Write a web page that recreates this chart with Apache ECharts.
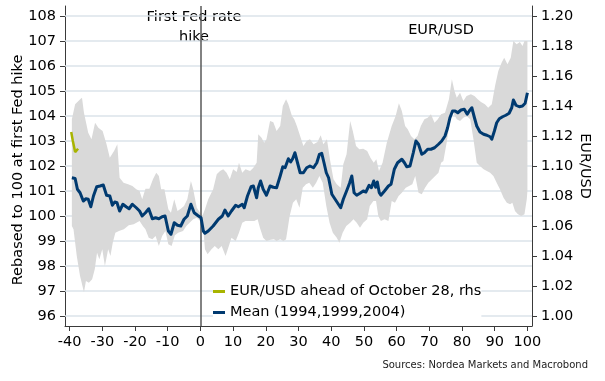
<!DOCTYPE html>
<html>
<head>
<meta charset="utf-8">
<script src="https://cdn.jsdelivr.net/npm/echarts@6/dist/echarts.min.js"></script>
<style>
html,body{margin:0;padding:0;background:#fff;}
#chart{width:605px;height:381px;}
</style>
</head>
<body>
<div id="chart"></div>
<script>
// ---- data ----
const tickDays = [-40,-30,-20,-10,0,10,20,30,40,50,60,70,80,90,100];
const leftTicks = [96,97,98,99,100,101,102,103,104,105,106,107,108];
const rightTicks = [1.00,1.02,1.04,1.06,1.08,1.10,1.12,1.14,1.16,1.18,1.20];

const meanDays = [-39.3,-38.3,-37.6,-36.8,-35.8,-35.0,-34.3,-33.5,-32.7,-31.7,-30.7,-29.7,-28.7,-27.7,-26.9,-26.2,-25.5,-24.7,-23.7,-22.7,-21.8,-20.8,-19.6,-18.6,-17.8,-16.8,-15.8,-14.7,-13.7,-12.7,-11.7,-10.8,-9.8,-9.0,-8.0,-7.0,-6.0,-5.0,-4.0,-2.9,-1.9,-0.9,0.2,0.9,1.4,2.4,3.9,5.5,6.7,7.5,8.5,9.5,10.8,11.6,12.8,13.4,14.4,15.5,16.2,17.2,17.7,18.4,19.2,20.2,21.3,22.3,23.3,24.4,25.2,25.9,26.9,27.6,28.2,28.9,29.7,30.5,31.5,32.5,33.5,34.6,35.6,36.4,37.1,37.8,38.5,39.2,40.2,41.2,42.2,42.9,43.7,44.7,45.6,46.3,47.0,47.8,48.8,49.8,50.6,51.6,52.3,53.0,53.6,54.1,54.7,55.2,56.3,57.5,58.3,59.3,60.3,61.6,62.4,63.1,64.1,65.1,65.9,66.7,67.7,68.5,69.5,70.5,71.6,72.8,73.8,74.8,75.6,76.3,77.1,77.9,78.7,79.7,80.7,81.6,82.2,83.0,83.8,84.5,85.5,86.6,87.6,88.6,89.1,89.9,90.6,91.4,92.4,93.4,94.4,95.2,95.7,96.5,97.5,98.5,99.3,100.0];
const meanValues = [101.53,101.50,101.07,100.93,100.60,100.69,100.67,100.37,100.80,101.17,101.20,101.24,100.83,100.80,100.43,100.56,100.53,100.20,100.47,100.37,100.29,100.47,100.33,100.20,100.00,100.13,100.29,99.89,99.93,99.89,99.97,100.00,99.40,99.27,99.73,99.63,99.60,99.87,100.00,100.47,100.13,100.03,99.93,99.40,99.31,99.40,99.60,99.87,100.00,100.24,100.00,100.20,100.43,100.37,100.47,100.33,100.80,101.17,101.20,100.73,101.13,101.40,101.07,100.83,101.20,101.15,101.13,101.60,101.97,101.93,102.29,102.16,102.29,102.53,102.13,101.73,101.73,101.93,102.00,101.93,102.13,102.47,102.51,102.13,101.73,101.53,100.87,100.67,100.47,100.33,100.67,101.00,101.31,101.60,100.93,100.83,100.91,101.00,100.96,101.23,101.13,101.40,101.15,101.36,100.93,100.83,101.00,101.20,101.27,101.87,102.13,102.27,102.13,101.97,102.00,102.53,103.00,102.87,102.47,102.53,102.67,102.67,102.73,102.87,103.00,103.20,103.53,103.93,104.20,104.20,104.13,104.24,104.27,104.07,104.20,104.33,103.93,103.60,103.36,103.27,103.23,103.17,103.07,103.40,103.73,103.89,103.97,104.03,104.11,104.33,104.64,104.43,104.37,104.40,104.51,104.93];

const upperDays = [-39.3,-38.3,-36.6,-36.2,-35.6,-34.3,-33.3,-32.2,-31.2,-29.9,-28.7,-27.7,-26.4,-25.4,-24.7,-23.5,-22.1,-20.8,-19.6,-18.6,-17.8,-16.8,-15.6,-14.5,-13.5,-12.7,-12.0,-11.0,-10.3,-9.8,-9.0,-8.0,-7.0,-6.0,-5.0,-4.0,-2.9,-2.2,-1.1,-0.1,0.6,1.4,2.4,3.9,5.0,6.0,7.0,8.0,9.0,10.0,11.1,11.8,12.8,13.8,15.2,16.2,17.2,17.7,18.7,19.5,20.2,21.3,22.3,23.3,24.4,25.2,26.2,26.9,28.0,28.7,29.5,30.5,31.5,32.5,33.5,34.6,35.8,36.8,37.6,38.7,39.7,40.7,41.7,42.9,43.7,44.7,45.8,46.6,47.6,48.6,49.8,51.0,52.0,53.0,53.8,54.6,55.7,57.0,58.5,59.7,60.7,61.6,62.6,63.4,64.4,65.4,66.4,67.4,68.5,69.5,70.5,71.6,72.6,73.6,74.8,76.0,76.9,77.7,78.4,79.4,80.4,81.4,82.7,83.8,84.8,85.8,87.0,88.0,89.1,90.1,91.1,92.1,92.9,93.9,94.9,95.7,96.7,97.7,98.5,99.1,100.0];
const upperValues = [103.87,104.47,104.69,104.73,104.13,103.33,103.07,103.73,103.53,103.40,102.87,102.33,102.60,102.87,101.53,101.33,101.27,101.20,101.07,101.00,100.67,101.09,101.09,101.47,101.73,101.60,101.07,101.07,100.60,100.27,100.13,100.67,100.20,100.29,100.40,100.67,101.40,101.07,100.33,100.13,100.00,100.27,100.67,101.07,101.67,101.80,101.87,101.73,101.47,101.87,101.76,102.13,101.73,101.87,101.80,101.93,102.13,103.27,103.13,102.93,103.07,103.80,103.75,103.40,103.60,104.40,104.67,104.47,104.00,103.87,103.60,103.20,102.80,103.00,103.07,102.87,102.96,103.23,102.87,103.07,102.20,101.47,101.27,101.13,102.07,102.47,103.80,103.40,102.80,102.67,102.69,102.60,102.33,102.13,102.27,101.80,102.13,102.93,103.60,104.00,104.51,104.20,103.60,103.47,103.20,103.07,103.20,103.60,103.87,103.93,104.07,103.73,103.87,104.07,104.13,104.67,105.47,105.00,104.73,104.93,104.60,104.80,104.87,104.80,104.67,104.56,104.47,104.33,104.47,105.20,105.80,106.13,106.33,106.07,106.33,107.00,106.87,106.96,106.80,107.00,107.00];

const lowerDays = [-39.3,-38.8,-37.8,-36.8,-35.6,-35.0,-34.1,-33.1,-32.3,-31.6,-30.9,-30.0,-29.2,-28.2,-27.5,-26.8,-26.0,-24.9,-23.4,-21.9,-20.4,-18.6,-17.6,-16.8,-15.8,-14.7,-13.7,-12.7,-11.7,-10.7,-9.8,-8.8,-7.8,-6.8,-5.3,-4.3,-3.3,-2.2,-1.1,-0.1,0.9,1.4,2.2,3.4,4.4,5.5,6.5,7.7,8.7,9.5,10.8,11.8,12.8,13.8,15.2,16.5,17.5,18.2,19.2,20.2,21.5,22.5,23.3,24.4,25.4,26.2,27.3,28.3,29.3,30.3,31.3,32.3,33.3,34.4,35.4,36.4,37.4,38.5,39.5,40.5,41.7,42.5,43.5,44.6,45.8,46.8,47.8,48.8,49.8,51.0,51.8,52.9,53.7,54.4,55.2,56.3,57.5,58.5,59.5,60.6,61.6,62.8,63.8,64.8,65.7,66.7,67.7,68.7,69.7,70.8,71.8,72.8,73.6,74.3,75.3,76.3,77.3,78.4,79.4,80.4,81.4,82.5,83.5,84.5,85.5,86.6,87.6,88.6,89.6,90.6,91.6,92.7,93.7,94.7,95.4,96.2,97.1,98.1,99.1,99.8,100.0];
const lowerValues = [99.60,99.47,98.40,97.60,96.95,97.40,97.33,97.47,97.87,98.53,98.27,98.67,98.00,98.67,98.40,98.93,99.33,99.40,99.47,99.63,99.67,99.80,99.60,99.47,99.13,99.07,99.20,98.80,99.20,99.40,98.87,98.80,99.23,99.33,99.40,99.60,99.73,99.87,99.93,99.80,99.47,98.67,98.47,98.67,98.80,98.67,98.80,98.40,98.80,99.13,99.00,99.33,99.73,99.80,99.80,99.80,99.87,99.53,99.13,99.00,99.05,99.07,99.00,99.07,99.00,99.07,100.00,100.53,100.67,100.33,101.13,101.27,101.33,101.13,101.33,101.60,101.33,100.40,99.73,99.33,99.13,98.93,99.33,99.60,99.73,99.87,99.73,99.53,99.73,99.87,100.40,100.60,100.60,100.00,99.80,99.87,99.80,100.60,100.53,100.80,100.93,101.13,101.20,101.27,101.60,100.93,100.87,101.13,101.33,101.47,101.60,101.73,102.13,102.20,102.93,103.80,104.13,103.87,103.80,103.93,104.00,103.87,103.07,102.13,102.00,101.87,101.80,101.73,101.60,101.33,101.07,100.73,100.53,100.47,100.53,100.20,100.07,100.00,100.07,100.67,101.00];

const eurusdDays = [-39.5,-39.0,-38.3,-37.4];
const eurusdValues = [1.1227,1.1167,1.1093,1.1115];

const gridValues = leftTicks;
const fedHikeDay = 0;

// ---- build ----
const FONT = 'DejaVu Sans';
const FS = 14.5;
const zip = (xs, ys) => xs.map((x, i) => [x, ys[i]]);
const meanData = zip(meanDays, meanValues);
const upperData = zip(upperDays, upperValues);
const lowerData = zip(lowerDays, lowerValues);
const eurusdData = zip(eurusdDays, eurusdValues);

const chart = echarts.init(document.getElementById('chart'), null, {renderer: 'canvas'});

const axisCommon = {
  axisLine: {show: true, onZero: false, lineStyle: {color: '#3a3a3a', width: 1}},
  axisTick: {show: true, inside: false, length: 5, lineStyle: {color: '#3a3a3a', width: 1}},
  splitLine: {show: false},
};
const labelStyle = {fontSize: FS, color: '#000', fontFamily: FONT, margin: 9};

chart.setOption({
  animation: false,
  backgroundColor: '#ffffff',
  textStyle: {fontFamily: FONT},
  grid: {left: 65, right: 73, top: 6, bottom: 55, containLabel: false},
  xAxis: {
    type: 'value', min: -41.4, max: 101.4,
    ...axisCommon,
    axisTick: {...axisCommon.axisTick, customValues: tickDays},
    axisLabel: {...labelStyle, customValues: tickDays},
  },
  yAxis: [
    {
      type: 'value', min: 95.6, max: 108.4, position: 'left',
      ...axisCommon,
      axisTick: {...axisCommon.axisTick, customValues: leftTicks},
      axisLabel: {...labelStyle, customValues: leftTicks},
    },
    {
      type: 'value', min: 0.993333, max: 1.206667, position: 'right',
      ...axisCommon,
      axisTick: {...axisCommon.axisTick, customValues: rightTicks},
      axisLabel: {...labelStyle, customValues: rightTicks, formatter: v => Number(v).toFixed(2)},
    }
  ],
  legend: {
    orient: 'vertical', left: 213, top: 283, padding: 0, z: 10,
    backgroundColor: '#ffffff',
    itemWidth: 12, itemHeight: 3, itemGap: 4, icon: 'rect',
    textStyle: {fontSize: FS, color: '#000', fontFamily: FONT, lineHeight: 17},
    data: ['EUR/USD ahead of October 28, rhs', 'Mean (1994,1999,2004)'],
    selectedMode: false,
  },
  series: [
    {
      name: 'gridlines', type: 'line', z: 1, silent: true,
      data: meanData, symbol: 'none', lineStyle: {opacity: 0},
      markLine: {
        silent: true, z: 1, symbol: ['none', 'none'], label: {show: false}, animation: false,
        lineStyle: {color: '#dbe3ea', width: 1.5, type: 'solid'},
        data: gridValues.map(v => ({yAxis: v}))
      }
    },
    {
      name: 'range', type: 'custom', z: 2, silent: true,
      data: [[0, 100]],
      renderItem: function (params, api) {
        const pts = [];
        upperData.forEach(p => pts.push(api.coord(p)));
        for (let i = lowerData.length - 1; i >= 0; i--) pts.push(api.coord(lowerData[i]));
        return {type: 'polygon', shape: {points: pts}, style: {fill: '#d9d9d9', stroke: null}};
      }
    },
    {
      name: 'fedline', type: 'line', z: 3, silent: true,
      data: meanData, symbol: 'none', lineStyle: {opacity: 0},
      markLine: {
        silent: true, z: 3, symbol: ['none', 'none'], label: {show: false}, animation: false,
        lineStyle: {color: '#595959', width: 1.5, type: 'solid'},
        data: [{xAxis: fedHikeDay}]
      }
    },
    {
      name: 'EUR/USD ahead of October 28, rhs', type: 'line', yAxisIndex: 1, z: 5,
      data: eurusdData, symbol: 'none', color: '#a8b400',
      lineStyle: {color: '#a8b400', width: 2.5}
    },
    {
      name: 'Mean (1994,1999,2004)', type: 'line', z: 4,
      data: meanData, symbol: 'none', color: '#003a70',
      lineStyle: {color: '#003a70', width: 3, join: 'round'}
    }
  ],
  graphic: [
    {type: 'text', x: 194, y: 17, style: {text: 'First Fed rate', font: FS + 'px "DejaVu Sans"', fill: '#000', align: 'center', verticalAlign: 'middle'}},
    {type: 'text', x: 194, y: 37, style: {text: 'hike', font: FS + 'px "DejaVu Sans"', fill: '#000', align: 'center', verticalAlign: 'middle'}},
    {type: 'text', x: 441, y: 30, style: {text: 'EUR/USD', font: FS + 'px "DejaVu Sans"', fill: '#000', align: 'center', verticalAlign: 'middle'}},
    {type: 'text', x: 18, y: 170, rotation: Math.PI / 2, style: {text: 'Rebased to 100 at first Fed hike', font: FS + 'px "DejaVu Sans"', fill: '#000', align: 'center', verticalAlign: 'middle'}},
    {type: 'text', x: 585, y: 166, rotation: -Math.PI / 2, style: {text: 'EUR/USD', font: FS + 'px "DejaVu Sans"', fill: '#000', align: 'center', verticalAlign: 'middle'}},
    {type: 'text', x: 588, y: 365, style: {text: 'Sources: Nordea Markets and Macrobond', font: '10px "DejaVu Sans"', fill: '#222', align: 'right', verticalAlign: 'middle'}}
  ]
});
</script>
</body>
</html>
